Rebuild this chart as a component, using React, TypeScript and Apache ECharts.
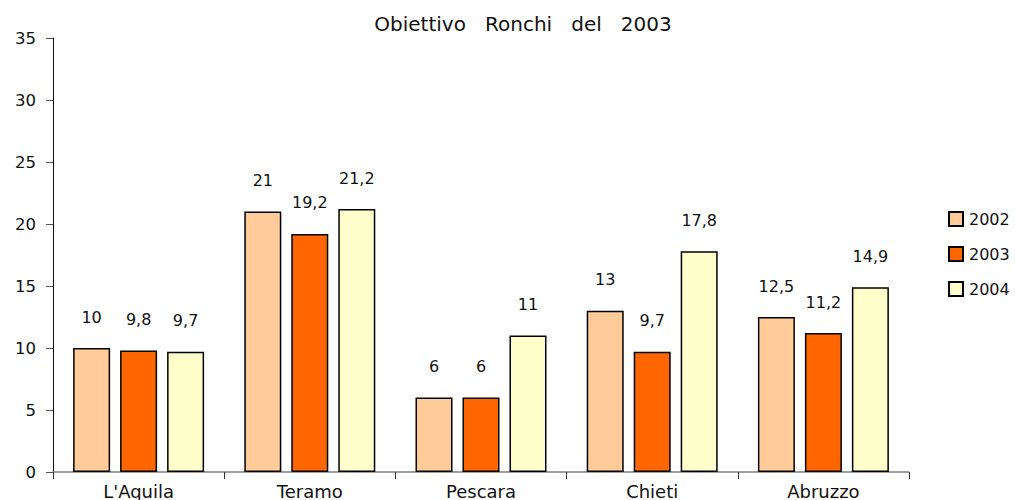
import React, { useEffect, useRef } from "react";
import * as echarts from "echarts";

const categories = ["L'Aquila", "Teramo", "Pescara", "Chieti", "Abruzzo"];
const seriesNames = ["2002", "2003", "2004"];
const values2002 = [10, 21, 6, 13, 12.5];
const values2003 = [9.8, 19.2, 6, 9.7, 11.2];
const values2004 = [9.7, 21.2, 11, 17.8, 14.9];
const colors = ["#FFCC99", "#FF6600", "#FFFFCC"];
const titleText = "Obiettivo   Ronchi   del   2003";

const FONT = "'DejaVu Sans', sans-serif";

export default function App() {
  const ref = useRef<HTMLDivElement>(null);
  useEffect(() => {
    if (!ref.current) return;
    document.body.style.margin = "0";
    const chart = echarts.init(ref.current, undefined, { renderer: "svg" });
    const data = [values2002, values2003, values2004];
    chart.setOption({
      animation: false,
      backgroundColor: "#ffffff",
      textStyle: { fontFamily: FONT },
      title: {
        text: titleText,
        left: 518,
        top: 9,
        textAlign: "center",
        textStyle: { fontFamily: FONT, fontSize: 20, fontWeight: "normal", color: "#111" },
      },
      legend: {
        orient: "vertical",
        left: 943,
        top: 206,
        itemWidth: 14,
        itemHeight: 14,
        itemGap: 19,
        icon: "rect",
        data: seriesNames,
        textStyle: { fontFamily: FONT, fontSize: 16, color: "#111", padding: [0, 0, 0, 1] },
      },
      grid: { left: 53, right: 106, top: 38, bottom: 27 },
      xAxis: {
        type: "category",
        data: categories,
        axisLine: { lineStyle: { color: "#808080", width: 1.5 } },
        axisTick: { show: true, length: 7, lineStyle: { color: "#333" } },
        axisLabel: { fontFamily: FONT, fontSize: 18, color: "#111", margin: 10 },
      },
      yAxis: {
        type: "value",
        min: 0,
        max: 35,
        interval: 5,
        splitLine: { show: false },
        axisLine: { show: true, lineStyle: { color: "#111", width: 1 } },
        axisTick: { show: true, length: 7, lineStyle: { color: "#555" } },
        axisLabel: { fontFamily: FONT, fontSize: 16.5, color: "#111", margin: 17 },
      },
      series: seriesNames.map((name, i) => ({
        name,
        type: "bar",
        data: data[i],
        barWidth: 37,
        barGap: "27%",
        itemStyle: { color: colors[i], borderColor: "#000", borderWidth: 1.5 },
        label: {
          show: true,
          position: "top",
          distance: 23,
          fontFamily: FONT,
          fontSize: 16,
          color: "#111",
          formatter: (p: any) => String(p.value).replace(".", ","),
        },
      })),
    });
    return () => chart.dispose();
  }, []);
  return <div ref={ref} style={{ width: 1015, height: 500 }} />;
}
